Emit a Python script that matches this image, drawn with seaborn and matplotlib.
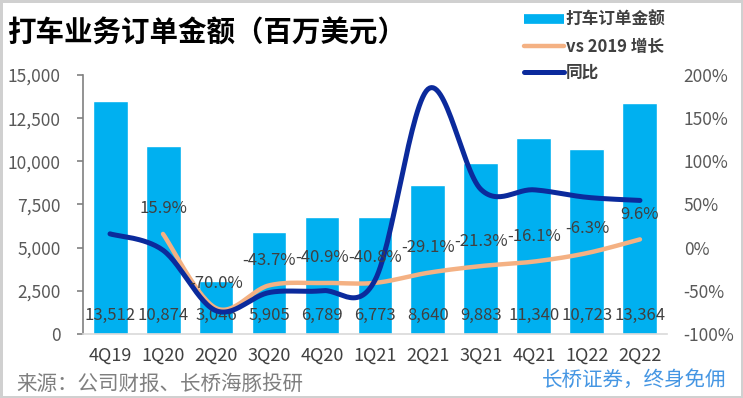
import matplotlib
matplotlib.use("Agg")
import matplotlib.pyplot as plt
from matplotlib.lines import Line2D
import numpy as np
import pandas as pd
import seaborn as sns

# --- data ---
quarters = ["4Q19", "1Q20", "2Q20", "3Q20", "4Q20", "1Q21",
            "2Q21", "3Q21", "4Q21", "1Q22", "2Q22"]
orders = [13512, 10874, 3046, 5905, 6789, 6773, 8640, 9883, 11340, 10723, 13364]
order_labels = ["13,512", "10,874", "3,046", "5,905", "6,789", "6,773",
                "8,640", "9,883", "11,340", "10,723", "13,364"]
# growth vs 2019 (starts at 1Q20)
vs2019 = [None, 15.9, -70.0, -43.7, -40.9, -40.8, -29.1, -21.3, -16.1, -6.3, 9.6]
# year-over-year growth
yoy = [16.0, -3.0, -73.0, -52.0, -49.8, -37.7, 183.6, 67.4, 67.0, 58.3, 54.7]

BAR_C = "#00B0F0"
ORANGE = "#F4B183"
NAVY = "#0B2A9C"
TXT = "#404040"

sns.set_style("white")
plt.rcParams["font.family"] = ["Noto Sans CJK SC", "DejaVu Sans"]
plt.rcParams["axes.unicode_minus"] = False


def smooth(xs, ys, n=30, t=0.5):
    """Catmull-Rom style curve through the points (Excel 'smoothed line')."""
    xs = np.asarray(xs, float)
    ys = np.asarray(ys, float)
    px, py = [], []
    for i in range(len(xs) - 1):
        x0, x1 = xs[max(i - 1, 0)], xs[i]
        x2, x3 = xs[i + 1], xs[min(i + 2, len(xs) - 1)]
        y0, y1 = ys[max(i - 1, 0)], ys[i]
        y2, y3 = ys[i + 1], ys[min(i + 2, len(ys) - 1)]
        m1x, m1y = t * (x2 - x0), t * (y2 - y0)
        m2x, m2y = t * (x3 - x1), t * (y3 - y1)
        s = np.linspace(0, 1, n, endpoint=(i == len(xs) - 2))
        h00 = 2 * s**3 - 3 * s**2 + 1
        h10 = s**3 - 2 * s**2 + s
        h01 = -2 * s**3 + 3 * s**2
        h11 = s**3 - s**2
        px.append(h00 * x1 + h10 * m1x + h01 * x2 + h11 * m2x)
        py.append(h00 * y1 + h10 * m1y + h01 * y2 + h11 * m2y)
    return np.concatenate(px), np.concatenate(py)


fig = plt.figure(figsize=(7.43, 3.98), dpi=100, facecolor="white",
                 edgecolor="#D0D0D0", linewidth=2.5)
ax = fig.add_axes([0.1117, 0.1608, 0.786, 0.6508])

sns.barplot(x=quarters, y=orders, color=BAR_C, saturation=1, width=0.66, ax=ax)
ax.set_xlim(-0.51, 10.51)
ax.set_ylim(0, 15000)
ax.set_yticks(np.arange(0, 15001, 2500))
ax.set_yticklabels([f"{v:,}" for v in range(0, 15001, 2500)])
ax.set_xlabel("")
ax.set_ylabel("")
for sp in ["top", "right"]:
    ax.spines[sp].set_visible(False)
ax.spines["left"].set_color("#808080")
ax.spines["left"].set_linewidth(1.2)
ax.spines["bottom"].set_color("#D9D9D9")
ax.spines["bottom"].set_linewidth(1.2)
ax.tick_params(axis="y", length=4, width=1.2, color="#808080", pad=12,
               labelsize=12.5, labelcolor="#595959")
ax.tick_params(axis="x", length=0, pad=9, labelsize=13, labelcolor=TXT)

for i, lab in enumerate(order_labels):
    ax.text(i, 1100, lab, ha="center", va="center", fontsize=12, color=TXT)

ax2 = ax.twinx()
ax2.set_ylim(-100, 200)
ax2.set_yticks(np.arange(-100, 201, 50))
ax2.set_yticklabels([f"{v}%" for v in range(-100, 201, 50)])
ax2.tick_params(axis="y", length=0, pad=12, labelsize=12.5, labelcolor="#595959")
for sp in ax2.spines.values():
    sp.set_visible(False)

idx_vs = [i for i, v in enumerate(vs2019) if v is not None]
val_vs = [vs2019[i] for i in idx_vs]
sx, sy = smooth(idx_vs, val_vs)
sns.lineplot(x=sx, y=sy, color=ORANGE, lw=3.2, sort=False, ax=ax2,
             solid_capstyle="round")
tx, ty = smooth(range(len(yoy)), yoy)
sns.lineplot(x=tx, y=ty, color=NAVY, lw=3.6, sort=False, ax=ax2,
             solid_capstyle="round")
ax.set_xlim(-0.51, 10.51)

for i, v in zip(idx_vs, val_vs):
    ax2.annotate(f"{v:.1f}%", (i, v), xytext=(0, 18), textcoords="offset points",
                 ha="center", va="center", fontsize=12, color=TXT)

# legend
handles = [Line2D([], [], color=BAR_C, lw=7, solid_capstyle="butt"),
           Line2D([], [], color=ORANGE, lw=3.2, solid_capstyle="round"),
           Line2D([], [], color=NAVY, lw=3.6, solid_capstyle="round")]
fig.legend(handles, ["打车订单金额", "vs 2019 增长", "同比"],
           loc="upper left", bbox_to_anchor=(0.685, 1.01), frameon=False,
           handlelength=2.4, handletextpad=0.1, labelspacing=0.5,
           prop={"size": 12, "weight": "bold"}, labelcolor=TXT)

fig.text(0.010, 0.915, "打车业务订单金额（百万美元）", fontsize=20.5,
         fontweight="bold", color="black", va="center", ha="left")
fig.text(0.022, 0.036, "来源：公司财报、长桥海豚投研", fontsize=14.8,
         color="#7F7F7F", va="center", ha="left")
fig.text(0.978, 0.045, "长桥证券，终身免佣", fontsize=14.8,
         color="#4596E3", va="center", ha="right")

fig.savefig("out.png", dpi=100, facecolor="white", edgecolor=fig.get_edgecolor())
